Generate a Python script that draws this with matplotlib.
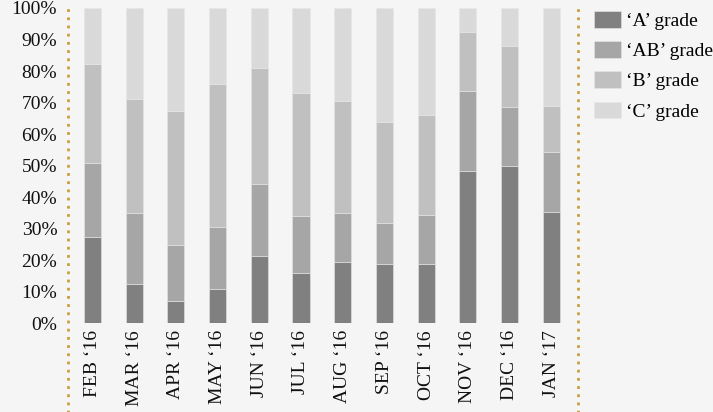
import numpy as np
import matplotlib
matplotlib.use("Agg")
import matplotlib.pyplot as plt

# Monthly grade mix, share of each grade in percent
months = ["FEB \u201816", "MAR \u201816", "APR \u201816", "MAY \u201816", "JUN \u201816", "JUL \u201816",
          "AUG \u201816", "SEP \u201816", "OCT \u201816", "NOV \u201816", "DEC \u201816", "JAN \u201817"]
grade_a = [27.5, 12.6, 7.1, 11.0, 21.3, 16.0, 19.3, 18.9, 18.7, 48.4, 50.0, 35.4]
grade_ab = [23.4, 22.3, 17.8, 19.6, 22.8, 18.1, 15.8, 12.9, 15.7, 25.4, 18.7, 19.0]
grade_b = [31.4, 36.2, 42.5, 45.4, 36.8, 38.9, 35.5, 32.1, 31.8, 18.5, 19.2, 14.5]
grade_c = [17.7, 28.9, 32.6, 24.0, 19.1, 27.0, 29.4, 36.1, 33.8, 7.7, 12.1, 31.1]
series_names = ["\u2018A\u2019 grade", "\u2018AB\u2019 grade", "\u2018B\u2019 grade", "\u2018C\u2019 grade"]
yticks = [0, 10, 20, 30, 40, 50, 60, 70, 80, 90, 100]

COLORS = ["#808080", "#a6a6a6", "#c0c0c0", "#d9d9d9"]
BG = "#f5f5f5"
GOLD = "#c99f3a"

plt.rcParams["font.family"] = ["Liberation Serif", "DejaVu Serif"]

fig = plt.figure(figsize=(7.13, 4.12), dpi=100, facecolor=BG)
ax = fig.add_axes([68.3 / 713, 1 - 323.3 / 412, 510 / 713, 315.3 / 412], facecolor=BG)

x = np.arange(len(months))
bottom = np.zeros(len(months))
for vals, name, col in zip([grade_a, grade_ab, grade_b, grade_c], series_names, COLORS):
    ax.bar(x, vals, bottom=bottom, width=0.41, color=col, label=name,
           edgecolor="#e6e6e6", linewidth=0.4)
    bottom += np.array(vals)

ax.set_xlim(-0.58, 11.65)
ax.set_ylim(0, 100)
ax.set_yticks(yticks)
ax.set_yticklabels([f"{t}%" for t in yticks])
ax.set_xticks(x)
ax.set_xticklabels(months, rotation=90, ha="center", va="top")
ax.tick_params(axis="both", length=0, labelsize=14, colors="#111111")
ax.tick_params(axis="y", pad=8)
ax.tick_params(axis="x", pad=5)
for s in ax.spines.values():
    s.set_visible(False)

# dotted gold rules on both sides, running down past the month labels
for xa in (0, 1):
    ax.plot([xa, xa], [-0.29, 1.0], transform=ax.transAxes, clip_on=False,
            color=GOLD, linestyle=(0, (1, 1.95)), linewidth=2)

fig.legend(loc="upper left", bbox_to_anchor=(594 / 713, 1 - 11 / 412), frameon=False,
           fontsize=14, handlelength=1.4, handleheight=0.93, handletextpad=0.25,
           labelspacing=0.58, borderpad=0, borderaxespad=0)

fig.savefig("out.png", dpi=100, facecolor=BG)
